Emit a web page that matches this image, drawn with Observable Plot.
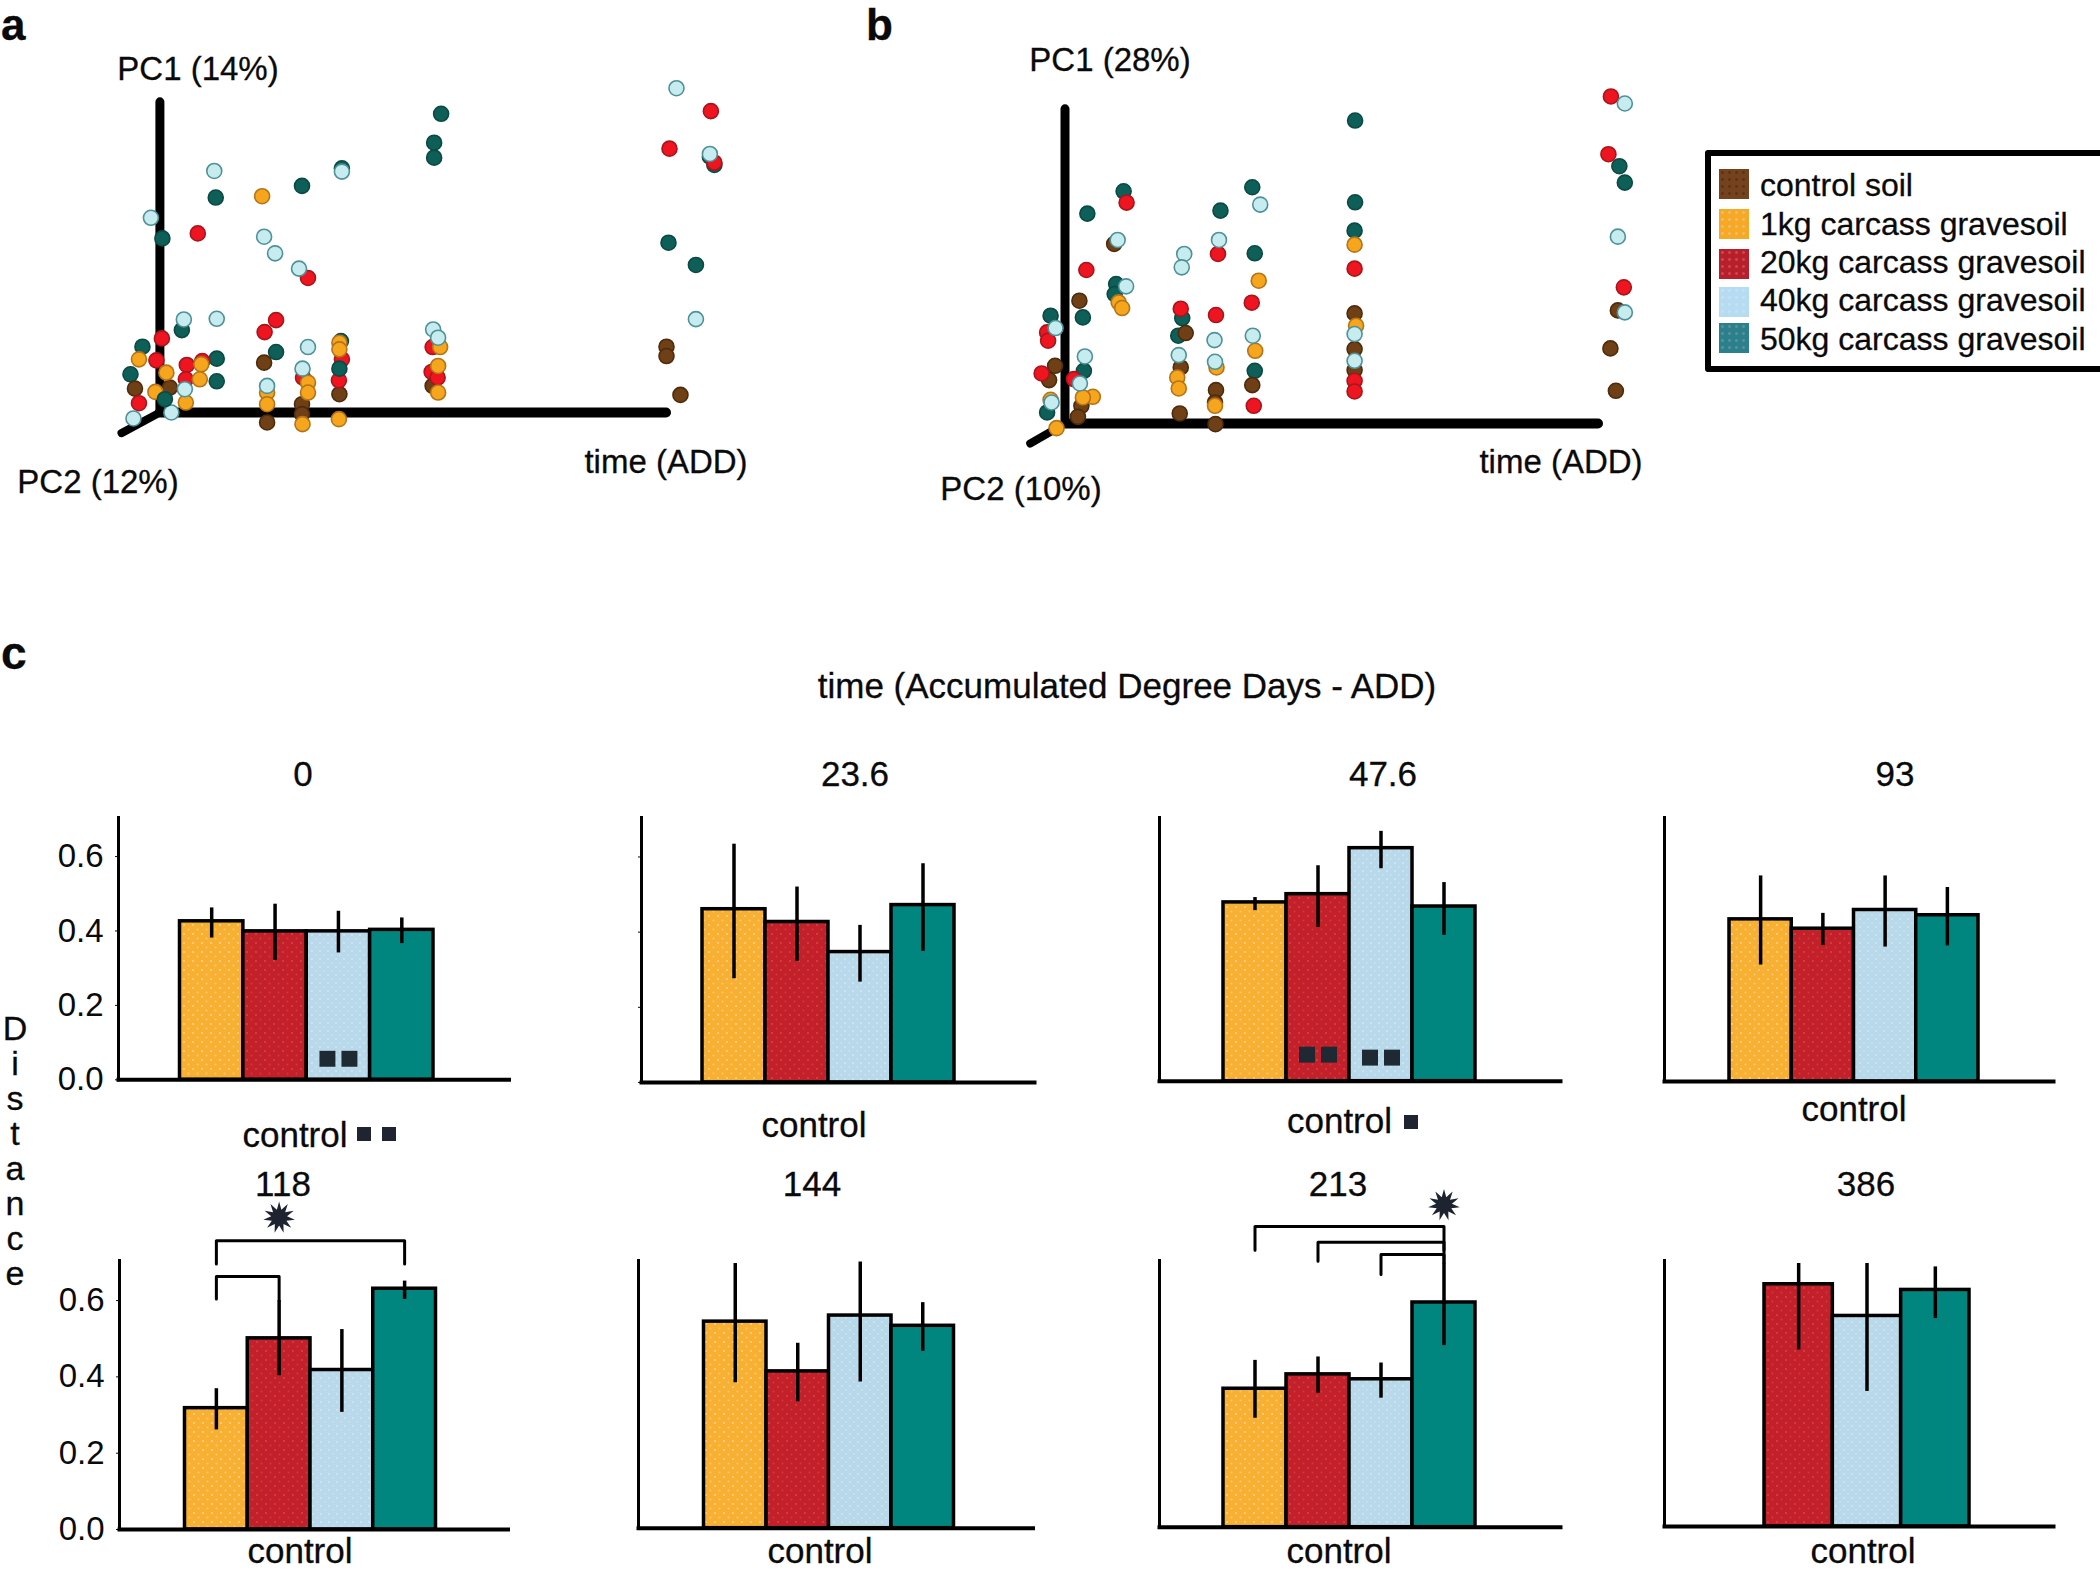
<!DOCTYPE html>
<html>
<head>
<meta charset="utf-8">
<script src="https://cdn.jsdelivr.net/npm/d3@7"></script>
<script src="https://cdn.jsdelivr.net/npm/@observablehq/plot@0.6"></script>
<style>
html,body{margin:0;padding:0;background:#fff;}
#page{position:relative;width:2100px;height:1571px;overflow:hidden;background:#fff;font-family:"Liberation Sans",Arial,sans-serif;color:#0a0a0a;}
#page>svg{position:absolute;background:transparent;overflow:visible;}
.t{position:absolute;white-space:nowrap;line-height:.8em;-webkit-text-stroke:.3px #0a0a0a;}
.sq{position:absolute;background:#1f2430;}
</style>
</head>
<body>
<svg width="0" height="0" style="position:absolute">
  <defs>
    <pattern id="p1" width="9" height="9" patternUnits="userSpaceOnUse">
      <rect width="9" height="9" fill="#f8b033"/><circle cx="2" cy="2" r="1.1" fill="#fbd08a"/><circle cx="6.5" cy="6.5" r="1" fill="#f9c674"/>
    </pattern>
    <pattern id="p20" width="9" height="9" patternUnits="userSpaceOnUse">
      <rect width="9" height="9" fill="#c4202a"/><circle cx="2" cy="2" r=".9" fill="#d24a53"/><circle cx="6.5" cy="6.5" r=".9" fill="#cc3a44"/>
    </pattern>
    <pattern id="p40" width="8" height="8" patternUnits="userSpaceOnUse">
      <rect width="8" height="8" fill="#b8d9ec"/><circle cx="2" cy="2" r="1" fill="#d5e5ea"/><circle cx="6" cy="6" r="1" fill="#d3e1dc"/>
    </pattern>
    <pattern id="p50" width="8" height="8" patternUnits="userSpaceOnUse">
      <rect width="8" height="8" fill="#00867e"/>
    </pattern>
  </defs>
</svg>
<div id="page"></div>
<script>
// ---------- categories ----------
const legendLabels = ["control soil","1kg carcass gravesoil","20kg carcass gravesoil","40kg carcass gravesoil","50kg carcass gravesoil"];
const treatments = ["1kg","20kg","40kg","50kg"];
const treatmentsLate = ["20kg","40kg","50kg"];
const times = ["0","23.6","47.6","93","118","144","213","386"];
const yTicks = [0,0.2,0.4,0.6];

// ---------- panel c: mean distance and error-bar ends per time ----------
const mean0  = [.426,.399,.399,.403], low0  = [.381,.321,.341,.366], high0  = [.462,.472,.453,.435];
const mean24 = [.461,.427,.347,.472], low24 = [.276,.322,.267,.349], high24 = [.634,.520,.418,.582];
const mean48 = [.478,.500,.623,.467], low48 = [.456,.411,.568,.390], high48 = [.491,.576,.668,.531];
const mean93 = [.433,.408,.458,.444], low93 = [.311,.363,.359,.362], high93 = [.549,.449,.549,.518];
const mean118= [.318,.501,.418,.631], low118= [.261,.403,.307,.603], high118= [.369,.600,.524,.651];
const mean144= [.544,.413,.560,.533], low144= [.383,.333,.385,.466], high144= [.697,.487,.701,.594];
const mean213= [.366,.404,.391,.594], low213= [.288,.354,.341,.480], high213= [.441,.450,.434,.699];
const mean386= [.642,.558,.627],      low386= [.468,.358,.551],      high386= [.697,.697,.688];

// significance annotations: [from, to, level, leg at from, leg at to]
const brackets118 = [["1kg","50kg",.757,.696,.696],["1kg","20kg",.663,.604,.600]];
const brackets213 = [["1kg","50kg",.795,.732,.699],["20kg","50kg",.753,.703,.732],["40kg","50kg",.721,.668,.703]];
const stars118 = [["20kg",.818]];
const stars213 = [["50kg",.852]];
const squares0  = [["40kg",.0565]];
const squares48 = [["20kg",.071],["40kg",.063]];

// ---------- panels a, b: [time axis, PC1] read relative to the axes' origin, per soil ----------
const aTeal=[[564,899],[550,812],[550,767],[285,682],[112,647],[5,524],[365,735],[1020,511],[1075,444],[1103,770],[1112,745],[44,248],[-35,198],[-59,115],[114,162],[114,94],[233,182],[363,215]];
const aTealFront=[[360,132],[10,40]];
const aLight=[[1036,976],[109,727],[365,725],[-18,586],[209,529],[231,479],[279,433],[48,280],[114,282],[297,197],[286,132],[1075,281],[548,250],[558,225],[50,70],[23,0],[-53,-18],[1103,778],[215,80]];
const aRed=[[1105,907],[1022,794],[1112,752],[76,539],[297,405],[233,278],[210,242],[4,223],[-7,157],[54,143],[52,100],[85,155],[-42,28],[287,105],[365,160],[359,97],[547,197],[545,122],[557,105]];
const aOrange=[[205,651],[-42,160],[13,120],[83,145],[80,100],[-9,62],[52,30],[215,60],[215,25],[297,90],[297,60],[360,210],[360,190],[562,197],[558,140],[558,60],[286,-35],[359,-20]];
const aBrown=[[1016,198],[1016,170],[1044,53],[209,150],[-50,72],[20,75],[285,25],[285,-5],[215,-30],[360,55],[547,80]];

const bTeal=[[584,908],[584,663],[583,578],[1116,771],[1127,722],[377,708],[313,638],[382,510],[118,696],[45,629],[103,418],[100,388],[-29,323],[36,318],[236,316],[228,263],[38,158],[382,158],[-36,33]];
const bTealFront=[];
const bLight=[[1127,959],[1113,560],[393,656],[310,550],[240,508],[235,468],[106,550],[123,411],[-19,286],[40,201],[30,120],[301,250],[229,205],[302,185],[378,263],[583,268],[583,188],[1127,333],[-27,63]];
const bRed=[[1099,980],[1094,807],[1125,408],[124,662],[43,460],[308,508],[583,464],[233,344],[304,325],[376,362],[-36,273],[-34,248],[-47,150],[18,133],[583,128],[583,96],[380,53]];
const bOrange=[[583,536],[390,428],[108,363],[115,346],[226,138],[229,105],[305,168],[302,53],[383,218],[586,293],[-29,71],[56,80],[36,78],[-17,-14]];
const bBrown=[[1113,339],[1098,225],[1109,98],[583,330],[583,223],[583,160],[29,368],[99,538],[243,271],[233,168],[304,100],[302,63],[231,30],[303,-2],[377,115],[-20,173],[-32,130],[33,53],[26,20]];

// ---------- styles ----------
const FONT = '"Liberation Sans",Arial,sans-serif';
const page = document.getElementById("page");
const soilStyle = {
  teal:  {fill:"#0d5f57",stroke:"#0a4a44"},
  light: {fill:"#c6ecef",stroke:"#4f9198"},
  red:   {fill:"#ee1520",stroke:"#a8151c"},
  orange:{fill:"#f6a61d",stroke:"#b5731a"},
  brown: {fill:"#6f4015",stroke:"#4d2b0c"}
};
const barFill = {"1kg":"url(#p1)","20kg":"url(#p20)","40kg":"url(#p40)","50kg":"url(#p50)"};

function text(str,x,baseline,size,opts={}){
  const d=document.createElement("div");
  d.className="t"; d.textContent=str;
  d.style.fontSize=size+"px";
  d.style.top=(baseline-0.7465*size)+"px";
  d.style.left=x+"px";
  if(opts.bold) d.style.fontWeight="bold";
  if(!opts.left) d.style.transform="translateX(-50%)";
  page.appendChild(d);
}
function square(x,y,s){
  const d=document.createElement("div");
  d.className="sq";
  d.style.cssText=`left:${x}px;top:${y}px;width:${s}px;height:${s}px`;
  page.appendChild(d);
}
function place(svg,left,top){
  svg.style.left=left+"px"; svg.style.top=top+"px";
  page.appendChild(svg);
}
const burst={draw(ctx,size){
  const R=Math.sqrt(size/Math.PI),n=11;
  for(let i=0;i<2*n;i++){
    const r=i%2?R*0.5:R,a=i*Math.PI/n-Math.PI/2;
    const x=r*Math.cos(a),y=r*Math.sin(a);
    i?ctx.lineTo(x,y):ctx.moveTo(x,y);
  }
  ctx.closePath();
}};

// ---------- panels a, b ----------
function scatter(cfg){
  const toRows=a=>a.map(([x,y])=>({x,y}));
  const layer=(rows,s)=>Plot.dot(toRows(rows),{x:"x",y:"y",r:7.5,fill:soilStyle[s].fill,stroke:soilStyle[s].stroke,strokeWidth:1.6});
  const w=780,h=520;
  const svg=Plot.plot({
    width:w,height:h,margin:0,
    style:{background:"transparent",overflow:"visible"},
    x:{domain:[0,cfg.xMax],range:[cfg.ox,cfg.ex],axis:null},
    y:{domain:[0,cfg.yMax],range:[cfg.oy,cfg.ty],axis:null},
    marks:[
      Plot.link([{x1:0,y1:0,x2:cfg.diag[0],y2:cfg.diag[1]}],{x1:"x1",y1:"y1",x2:"x2",y2:"y2",stroke:"#000",strokeWidth:8,strokeLinecap:"round"}),
      Plot.link([{x1:0,y1:0,x2:0,y2:cfg.yMax-10}],{x1:"x1",y1:"y1",x2:"x2",y2:"y2",stroke:"#000",strokeWidth:9,strokeLinecap:"round"}),
      Plot.link([{x1:0,y1:0,x2:cfg.xMax,y2:0}],{x1:"x1",y1:"y1",x2:"x2",y2:"y2",stroke:"#000",strokeWidth:10,strokeLinecap:"round"}),
      layer(cfg.teal,"teal"),layer(cfg.brown,"brown"),layer(cfg.red,"red"),layer(cfg.orange,"orange"),layer(cfg.light,"light"),layer(cfg.front,"teal")
    ]
  });
  place(svg,cfg.left,0);
}
scatter({left:0,ox:159.4,ex:665.5,oy:412,ty:98,xMax:1015,yMax:945,diag:[-77,-62],teal:aTeal,brown:aBrown,red:aRed,orange:aOrange,light:aLight,front:aTealFront});
scatter({left:900,ox:164.5,ex:697.5,oy:423,ty:105,xMax:1073,yMax:953,diag:[-70,-60],teal:bTeal,brown:bBrown,red:bRed,orange:bOrange,light:bLight,front:bTealFront});

// ---------- panel c ----------
const panels=[
 {mean:mean0, low:low0, high:high0, ax:117.5,right:508, top:817, base:1079.3, b0:179,b1:432.5, labels:true, ticks:true, squares:squares0},
 {mean:mean24,low:low24,high:high24,ax:641, right:1034,top:817, base:1082,   b0:702,b1:954, ticks:true},
 {mean:mean48,low:low48,high:high48,ax:1159,right:1560,top:817, base:1080.7, b0:1223,b1:1475, squares:squares48},
 {mean:mean93,low:low93,high:high93,ax:1664,right:2053,top:817, base:1081,   b0:1729,b1:1978},
 {mean:mean118,low:low118,high:high118,ax:118.5,right:507,top:1260,base:1529, b0:184,b1:435, labels:true, brackets:brackets118, stars:stars118},
 {mean:mean144,low:low144,high:high144,ax:637.5,right:1032,top:1260,base:1527.7,b0:703,b1:953},
 {mean:mean213,low:low213,high:high213,ax:1159,right:1560,top:1260,base:1526.7,b0:1223,b1:1475, brackets:brackets213, stars:stars213},
 {mean:mean386,low:low386,high:high386,ax:1664,right:2053,top:1260,base:1526,b0:1764,b1:1969, series:treatmentsLate}
];
for(const p of panels){
  const series=p.series||treatments;
  const rows=series.map((s,i)=>({s,mean:p.mean[i],low:p.low[i],high:p.high[i]}));
  const ml=p.labels?80:6, mt=p.top>1000?100:20, mb=4, mr=2;
  const left=p.ax-ml, topPx=p.top-mt;
  const width=p.right-p.ax+ml+mr, height=p.base-p.top+mt+mb;
  const marks=[
    Plot.barY(rows,{x:"s",y:"mean",fill:d=>barFill[d.s],stroke:"#000",strokeWidth:3.5}),
    Plot.ruleX(rows,{x:"s",y1:"low",y2:"high",stroke:"#000",strokeWidth:3.5}),
    Plot.frame({anchor:"left",stroke:"#000",strokeWidth:3}),
    Plot.frame({anchor:"bottom",stroke:"#000",strokeWidth:4})
  ];
  if(p.ticks||p.labels) marks.push(Plot.axisY({ticks:yTicks,tickSize:3,tickPadding:12,fontSize:33,label:null,
      tickFormat:p.labels?d3.format(".1f"):()=>"",fill:"#0a0a0a"}));
  for(const [a,b,level,la,lb] of (p.brackets||[])){
    marks.push(Plot.line([{s:a,v:la},{s:a,v:level},{s:b,v:level},{s:b,v:lb}],{x:"s",y:"v",stroke:"#000",strokeWidth:3,curve:"linear"}));
  }
  if(p.stars) marks.push(Plot.dot(p.stars.map(([s,v])=>({s,v})),{x:"s",y:"v",symbol:burst,r:16,fill:"#1d2430"}));
  if(p.squares){
    const sq=p.squares.map(([s,v])=>({s,v}));
    for(const dx of [-11,11]) marks.push(Plot.dot(sq,{x:"s",y:"v",symbol:"square",r:9,fill:"#1f2933",dx}));
  }
  const svg=Plot.plot({
    width,height,marginLeft:ml,marginRight:mr,marginTop:mt,marginBottom:mb,
    style:{background:"transparent",overflow:"visible",fontFamily:FONT},
    x:{type:"band",domain:series,range:[p.b0-left,p.b1-left],padding:0,round:false,axis:null},
    y:{domain:[0,.705],axis:null},
    color:{type:"identity"},
    marks
  });
  place(svg,left,topPx);
}

// ---------- texts ----------
text("a",1,40,44,{bold:true,left:true});
text("b",866,40,44,{bold:true,left:true});
text("c",1,669,46,{bold:true,left:true});
text("PC1 (14%)",198,81,33);
text("PC2 (12%)",98,494,33);
text("time (ADD)",666,474,33);
text("PC1 (28%)",1110,72,33);
text("PC2 (10%)",1021,501,33);
text("time (ADD)",1561,474,33);
text("time (Accumulated Degree Days - ADD)",1127,698,35);

const titleSpots=[[303,786],[855,786],[1383,786],[1895,786],[283,1196],[812,1196],[1338,1196],[1866,1196]];
times.forEach((t,i)=>text(t,titleSpots[i][0],titleSpots[i][1],35));

const controlSpots=[[295,1147],[814,1137],[1339.5,1133],[1854,1121],[300,1563],[820,1563],[1339,1563],[1863,1563]];
controlSpots.forEach(([x,y])=>text("control",x,y,35));
square(357,1127,14);square(382,1127,14);square(1404,1115,14);

// stacked axis title
const dist=document.createElement("div");
dist.style.cssText="position:absolute;left:0;top:1011px;width:30px;text-align:center;font-size:34px;line-height:35px;-webkit-text-stroke:.3px #0a0a0a;";
for(const ch of "Distance"){const s=document.createElement("span");s.textContent=ch;s.style.display="block";dist.appendChild(s);}
page.appendChild(dist);

// ---------- legend ----------
const box=document.createElement("div");
box.style.cssText="position:absolute;left:1705px;top:150px;width:400px;height:210px;border:6px solid #000;border-radius:3px;background:#fff;";
page.appendChild(box);
const swatchFill=["#74431d","#f7a824","#b7202b","#b6dcf3","#2a808c"];
const swatchDot=["#5c3413","#e9bd6c","#d0454d","#c9e0ee","#5f8f95"];
const swatchTop=[169,209,249,287,323];
const legendBase=[197,236,274,312,351];
legendLabels.forEach((lab,i)=>{
  const s=document.createElement("div");
  s.style.cssText=`position:absolute;left:1719px;top:${swatchTop[i]}px;width:30px;height:30px;background-color:${swatchFill[i]};background-image:radial-gradient(${swatchDot[i]} 1.2px,transparent 1.6px);background-size:7px 7px;`;
  page.appendChild(s);
  text(lab,1760,legendBase[i],32,{left:true});
});
</script>
</body>
</html>
